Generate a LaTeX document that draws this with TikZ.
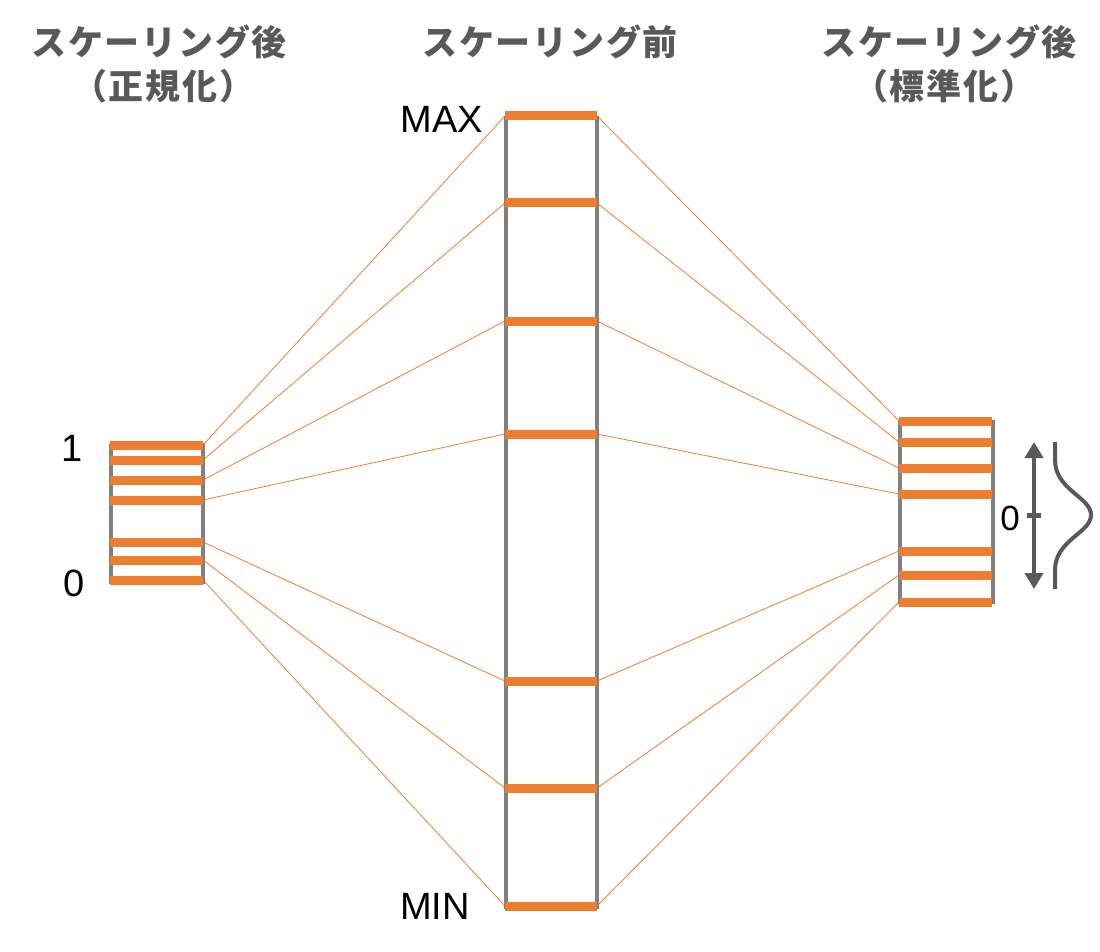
\documentclass[tikz,border=0pt]{standalone}
\usepackage{fontspec}
\setmainfont{Liberation Sans}
\newfontfamily\jp{Noto Sans CJK JP}[LetterSpace=5]
\usetikzlibrary{arrows.meta}
\definecolor{orng}{HTML}{ED7D31}
\definecolor{railgray}{HTML}{808080}
\definecolor{dgray}{HTML}{595959}
\begin{document}
\begin{tikzpicture}[x=1pt,y=-1pt,
  bar/.style={draw=orng,line width=9pt},
  rail/.style={draw=railgray,line width=3.5pt},
  conn/.style={draw=orng,line width=0.8pt},
  title/.style={font=\jp\bfseries\fontsize{35}{40}\selectfont,text=dgray,inner sep=0pt},
  lbl/.style={font=\fontsize{38}{42}\selectfont,inner sep=0pt,text=black}]
\useasboundingbox (0,0) rectangle (1100,952);

% titles
\node[title] (tL1) at (159,42) {スケーリング後};
\node[title] (tL2) at (163,86) {（正規化）};
\node[title] (tM1) at (550,42) {スケーリング前};
\node[title] (tR1) at (949,42) {スケーリング後};
\node[title] (tR2) at (944,86) {（標準化）};

% bar coordinates
\foreach \y [count=\i] in {445,460,480,500,542,560,580} {
  \coordinate (L\i-w) at (110,\y); \coordinate (L\i-e) at (203,\y);
}
\foreach \y [count=\i] in {116,203,321,434,681,788,906} {
  \coordinate (M\i-w) at (505,\y); \coordinate (M\i-e) at (597,\y);
}
\foreach \y [count=\i] in {421,442,468,494,551,575,602} {
  \coordinate (R\i-w) at (899,\y); \coordinate (R\i-e) at (992,\y);
}

% connectors
\foreach \i in {1,...,7} {
  \draw[conn] (L\i-e) -- (M\i-w);
  \draw[conn] (M\i-e) -- (R\i-w);
}

% rails
\draw[rail] (111,444) -- (111,584);
\draw[rail] (203,443) -- (203,584);
\draw[rail] (506,116) -- (506,909);
\draw[rail] (597,116) -- (597,909);
\draw[rail] (900,421) -- (900,604);
\draw[rail] (993,420) -- (993,604);

% bars
\foreach \i in {1,...,7} {
  \draw[bar] (L\i-w) -- (L\i-e);
  \draw[bar] (M\i-w) -- (M\i-e);
  \draw[bar] (R\i-w) -- (R\i-e);
}

% labels
\node[lbl] (one) at (72,448) {1};
\node[lbl] (zeroL) at (74,583) {0};
\node[lbl] (max) at (442,119) {MAX};
\node[lbl] (min) at (435,906) {MIN};
\node[lbl,font=\fontsize{35}{40}\selectfont] (zeroR) at (1010,518) {0};

% arrow
\coordinate (aT) at (1034,442);
\coordinate (aB) at (1034,589);
\draw[dgray,line width=4.5pt,{Triangle[width=18pt,length=16pt]}-{Triangle[width=18pt,length=16pt]}] (aT) -- (aB);
\coordinate (tk1) at (1027,515);
\coordinate (tk2) at (1041,515);
\draw[dgray,line width=5pt] (tk1) -- (tk2);

% bell curve
\draw[dgray,line width=4pt] (1055,442) -- (1055,460)
  .. controls (1055,490) and (1091,497) .. (1091,515)
  .. controls (1091,533) and (1055,540) .. (1055,570) -- (1055,589);
\end{tikzpicture}
\end{document}
